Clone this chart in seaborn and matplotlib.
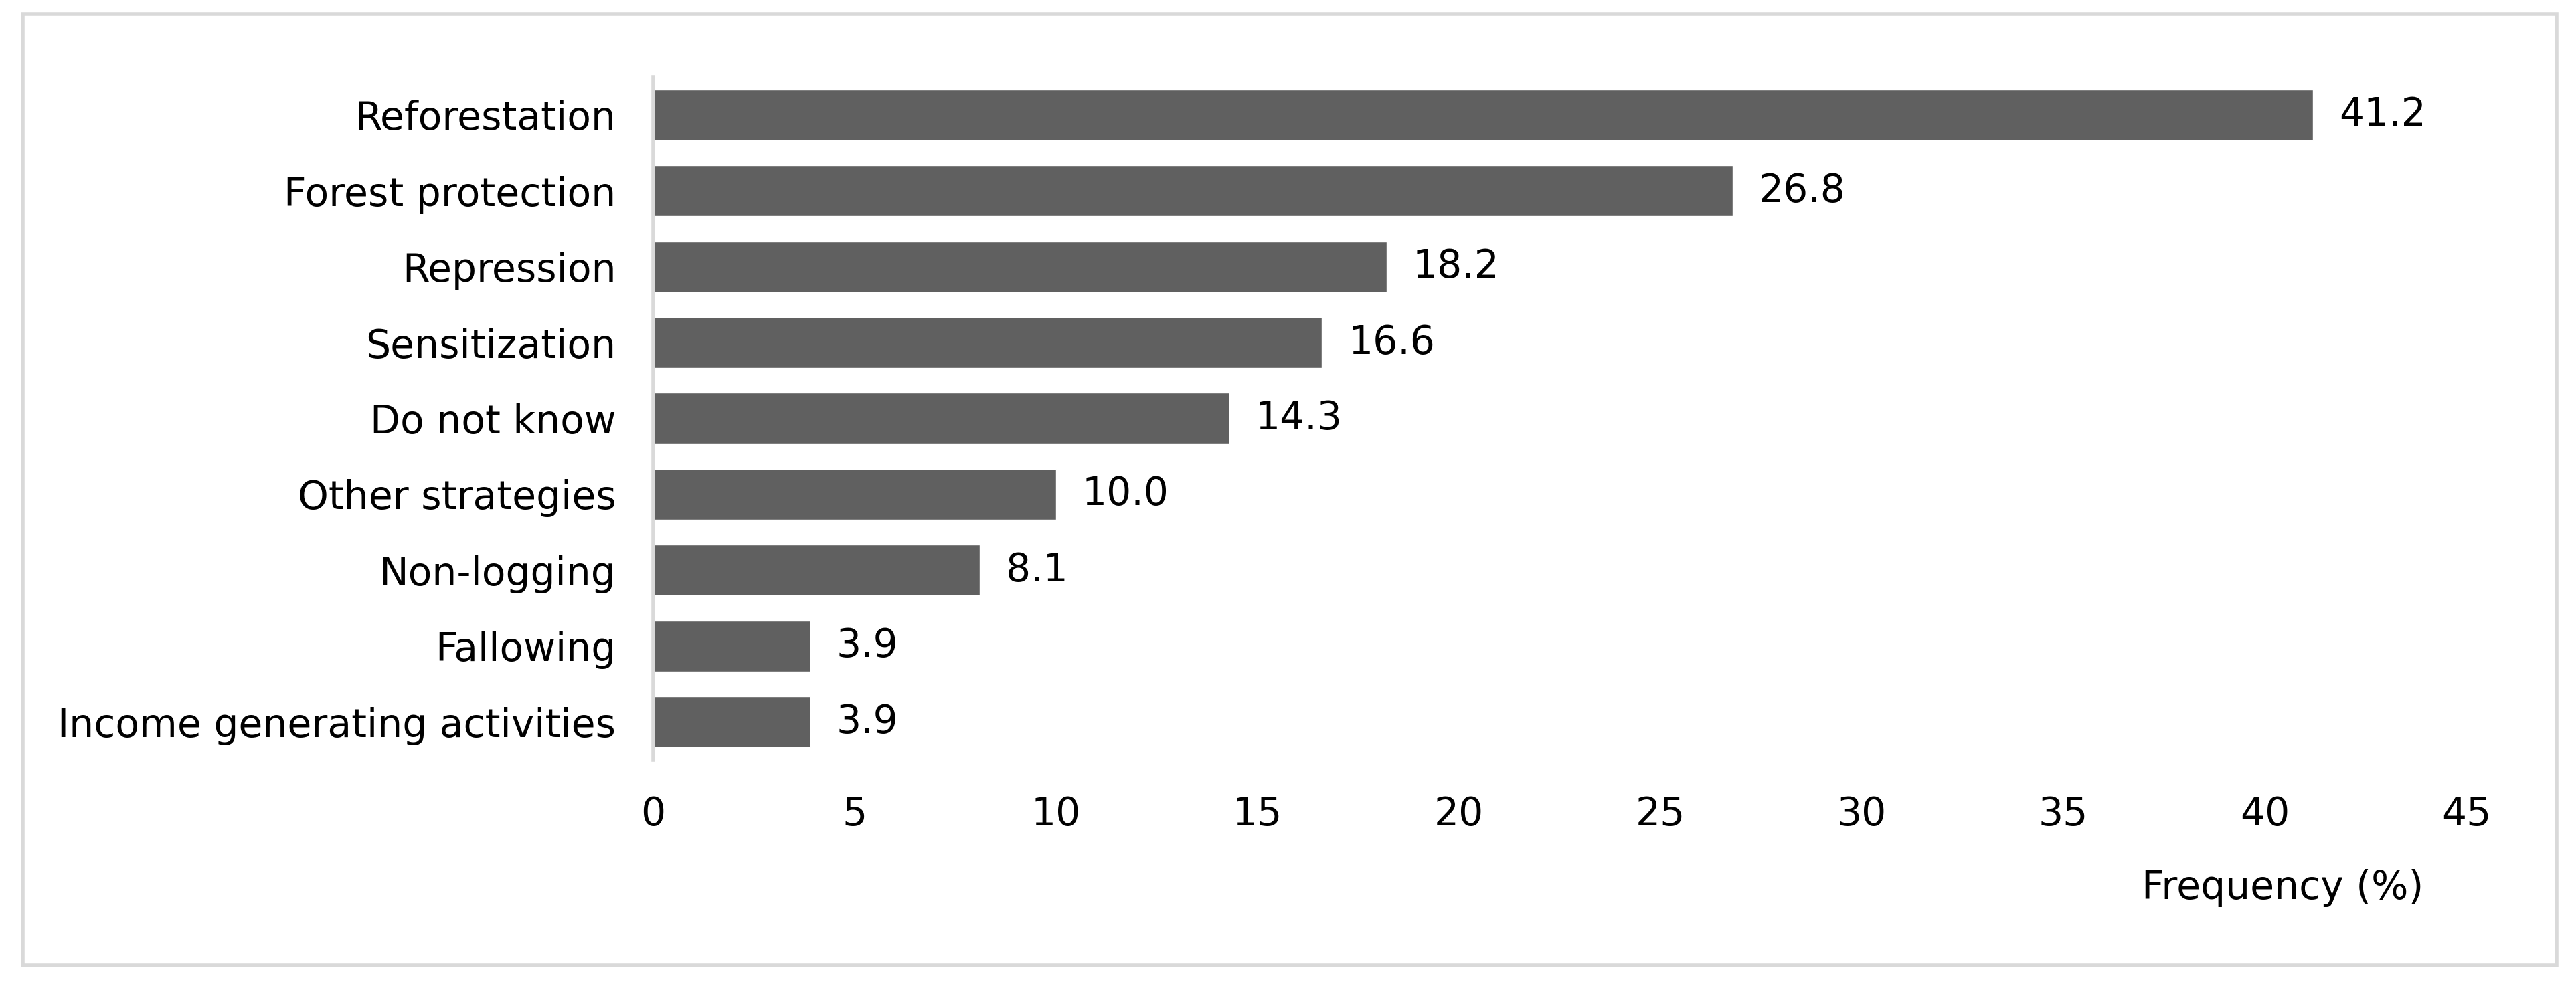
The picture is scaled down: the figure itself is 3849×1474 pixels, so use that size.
import matplotlib
matplotlib.use("Agg")
import matplotlib.pyplot as plt
import seaborn as sns
import pandas as pd
from matplotlib.patches import Rectangle

# data
strategies = [
    "Reforestation", "Forest protection", "Repression", "Sensitization",
    "Do not know", "Other strategies", "Non-logging", "Fallowing",
    "Income generating activities",
]
frequency = [41.2, 26.8, 18.2, 16.6, 14.3, 10.0, 8.1, 3.9, 3.9]
x_ticks = [0, 5, 10, 15, 20, 25, 30, 35, 40, 45]

df = pd.DataFrame({"Strategy": strategies, "Frequency": frequency})

sns.set_theme(style="white")
plt.rcParams["font.family"] = ["DejaVu Sans"]

W, H = 3849, 1474
fig = plt.figure(figsize=(W / 100, H / 100), dpi=100)
ax = fig.add_axes([976 / W, 1 - 1136 / H, (3685 - 976) / W, (1136 - 115) / H])

sns.barplot(data=df, y="Strategy", x="Frequency", color="#606060",
            saturation=1, width=0.67, ax=ax)

for bar, val in zip(ax.patches, frequency):
    ax.annotate(f"{val:.1f}", (bar.get_width(), bar.get_y() + bar.get_height() / 2),
                xytext=(28, 0), textcoords="offset points",
                ha="left", va="center", fontsize=42, color="black")

ax.set_xlim(0, 45)
ax.set_ylim(8.5, -0.5)
ax.set_xticks(x_ticks)
ax.set_xticklabels([str(t) for t in x_ticks])
ax.tick_params(axis="both", length=0, labelsize=42, colors="black")
ax.tick_params(axis="x", pad=38)
ax.tick_params(axis="y", pad=40)
ax.set_ylabel("")
ax.set_xlabel("")

for side in ["top", "right", "bottom"]:
    ax.spines[side].set_visible(False)
ax.spines["left"].set_color("#d9d9d9")
ax.spines["left"].set_linewidth(4)

fig.text(3621 / W, 1 - 1328 / H, "Frequency (%)", ha="right", va="center",
         fontsize=42, color="black")

# light grey frame around the chart
fig.patches.append(Rectangle((34 / W, 1 - 1443 / H), (3820 - 34) / W, (1443 - 21) / H,
                             transform=fig.transFigure, fill=False,
                             edgecolor="#d9d9d9", linewidth=4))

fig.savefig("out.png", dpi=100, facecolor="white")
